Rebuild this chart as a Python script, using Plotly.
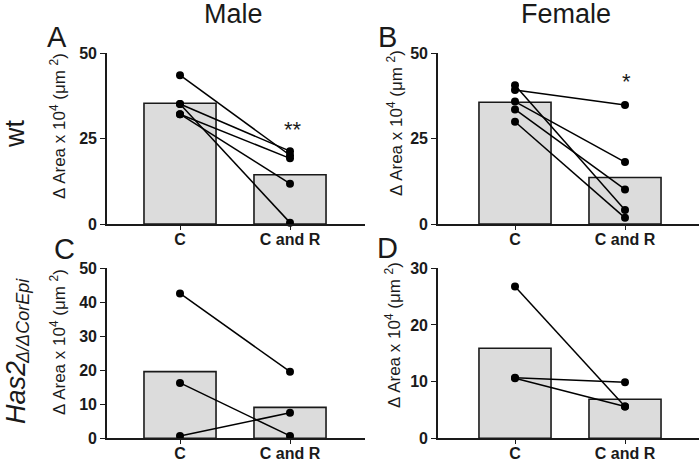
import plotly.graph_objects as go

W, H = 699, 461

categories = ["C", "C and R"]

# Panel A: wt Male
a_bar = [35.3, 14.4]
a_c = [43.5, 35.1, 35.1, 32.1, 32.1]
a_cr = [20.1, 21.3, 0.4, 19.2, 11.8]

# Panel B: wt Female
b_bar = [35.6, 13.6]
b_c = [40.6, 39.2, 35.8, 33.5, 29.9]
b_cr = [4.1, 34.8, 18.1, 10.1, 1.8]

# Panel C: Has2 Male
c_bar = [19.6, 9.1]
c_c = [42.6, 16.3, 0.7]
c_cr = [19.6, 0.7, 7.5]

# Panel D: Has2 Female
d_bar = [15.9, 6.9]
d_c = [26.8, 10.7, 10.6]
d_cr = [5.6, 9.9, 5.6]

y_ticks_ab = [0, 25, 50]
y_ticks_c = [0, 10, 20, 30, 40, 50]
y_ticks_d = [0, 10, 20, 30]

FONT = "Liberation Sans, Arial, sans-serif"
INK = "#1a1a1a"


def px(x):
    return x / W


def py(y):
    return 1 - y / H


fig = go.Figure()

panels = [
    (a_bar, a_c, a_cr, "", (107, 365), (224, 53), 50, y_ticks_ab, 180),
    (b_bar, b_c, b_cr, "2", (438, 699), (224, 53), 50, y_ticks_ab, 515),
    (c_bar, c_c, c_cr, "3", (107, 365), (438.3, 268.3), 50, y_ticks_c, 180),
    (d_bar, d_c, d_cr, "4", (438, 699), (438.3, 268.3), 30, y_ticks_d, 515),
]

layout_axes = {}
for bars, cv, crv, sid, xd, yd, ymax, yt, cx in panels:
    xa = "x" + sid
    ya = "y" + sid
    fig.add_trace(go.Bar(
        x=[0, 1], y=bars, width=0.655,
        marker=dict(color="#dcdcdc", line=dict(color=INK, width=1.6)),
        xaxis=xa, yaxis=ya, showlegend=False, hoverinfo="skip",
    ))
    for v0, v1 in zip(cv, crv):
        fig.add_trace(go.Scatter(
            x=[0, 1], y=[v0, v1], mode="lines+markers",
            line=dict(color="#000000", width=1.5),
            marker=dict(color="#000000", size=8),
            xaxis=xa, yaxis=ya, showlegend=False, cliponaxis=False,
        ))
    x0 = (xd[0] - cx) / 110
    x1 = (xd[1] - cx) / 110
    layout_axes["xaxis" + sid] = dict(
        domain=[px(xd[0]), px(xd[1])], range=[x0, x1], automargin=False,
        anchor=ya, showline=True, linecolor=INK, linewidth=1.6,
        showgrid=False, zeroline=False, ticks="outside", ticklen=4,
        tickwidth=1.3, tickcolor=INK, ticklabelstandoff=-4,
        tickvals=[0, 1], ticktext=categories,
        tickfont=dict(family=FONT, size=16, color=INK, weight="bold"),
    )
    layout_axes["yaxis" + sid] = dict(
        domain=[py(yd[0]), py(yd[1])], range=[0, ymax], automargin=False,
        anchor=xa, showline=True, linecolor=INK, linewidth=1.6,
        showgrid=False, zeroline=False, ticks="outside", ticklen=5,
        tickwidth=1.3, tickcolor=INK, tickvals=yt,
        tickfont=dict(family=FONT, size=16, color=INK, weight="bold"),
    )

fig.update_layout(**layout_axes)

ann = []


def text(x, y, t, size, angle=0, **kw):
    ann.append(dict(x=px(x), y=py(y), xref="paper", yref="paper", text=t,
                    showarrow=False, textangle=angle, xanchor="center",
                    yanchor="middle",
                    font=dict(family=FONT, size=size, color=INK), **kw))


ylabel = "Δ Area x 10<sup>4</sup> (μm <sup>2</sup>)"
text(58, 126, ylabel, 17, -90)
text(395, 123, ylabel, 17, -90)
text(58, 342, ylabel, 17, -90)
text(393, 335, ylabel, 17, -90)

text(233, 14, "Male", 27)
text(566, 14, "Female", 27)
text(57, 37, "A", 29)
text(387, 37, "B", 29)
text(64, 249, "C", 29)
text(387, 248, "D", 29)
text(15, 134, "wt", 27, -90)
text(16, 393, "<i>Has2</i>", 27, -90)
text(23, 321, "<i>Δ/ΔCorEpi</i>", 18, -90)
text(293, 129, "**", 22)
text(626, 82, "*", 22)

fig.update_layout(
    annotations=ann,
    width=W, height=H,
    margin=dict(l=0, r=0, t=0, b=0, autoexpand=False),
    paper_bgcolor="white", plot_bgcolor="white",
    barmode="overlay",
    font=dict(family=FONT),
)

fig.write_html(
    "out.html",
    config={"displayModeBar": False},
    post_script="document.body.style.margin='0px';document.body.style.overflow='hidden';",
)
